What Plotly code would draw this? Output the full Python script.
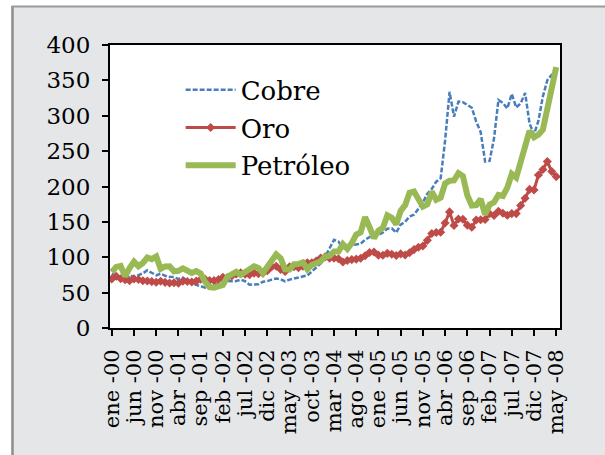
import plotly.graph_objects as go

nombres_mes = ["ene", "feb", "mar", "abr", "may", "jun", "jul", "ago", "sep", "oct", "nov", "dic"]
anios = ["00", "01", "02", "03", "04", "05", "06", "07", "08"]
meses = [f"{m} -{a}" for a in anios for m in nombres_mes][:101]

cobre = [
    76.5, 74.7, 72.1, 69.6, 74.5, 72.3, 74.2, 77.2, 81.5, 78.2, 74.5, 76.7,
    73.8, 72.4, 72.0, 69.2, 71.2, 66.8, 63.8, 61.0, 59.1, 57.1, 59.1, 61.0,
    62.3, 64.6, 66.5, 66.0, 66.3, 68.4, 66.1, 61.2, 61.3, 61.7, 65.4, 66.3,
    68.4, 69.9, 68.9, 65.9, 68.4, 70.0, 71.0, 73.0, 74.3, 79.8, 85.3, 91.3,
    100.6, 113.6, 124.6, 122.1, 113.4, 111.5, 116.8, 118.1, 119.2, 124.9, 128.5, 130.4,
    131.6, 135.0, 140.2, 140.8, 134.8, 146.2, 150.0, 157.6, 160.1, 168.4, 177.2, 189.9,
    196.5, 206.8, 211.8, 265.1, 333.9, 298.7, 320.0, 319.3, 315.5, 311.3, 291.7, 277.0,
    235.3, 236.1, 267.8, 322.3, 318.0, 310.4, 330.8, 311.7, 317.5, 332.3, 289.0, 273.7,
    293.0, 327.4, 350.2, 358.0, 361.0,
]

oro = [
    69.2, 73.1, 69.6, 68.1, 66.8, 69.4, 68.5, 66.7, 66.5, 65.6, 64.6, 66.0,
    64.5, 63.6, 63.9, 63.3, 66.2, 65.7, 65.0, 66.2, 68.9, 68.8, 67.1, 67.0,
    68.5, 71.8, 71.4, 73.6, 76.4, 78.1, 76.1, 75.4, 77.6, 76.9, 77.6, 81.0,
    86.7, 87.2, 82.8, 79.8, 86.4, 86.6, 85.3, 87.4, 92.1, 92.1, 94.7, 99.0,
    100.6, 98.5, 98.8, 97.9, 93.3, 95.4, 96.7, 97.3, 98.5, 102.2, 106.8, 107.4,
    103.0, 102.9, 105.5, 104.3, 102.5, 104.7, 103.2, 106.4, 110.8, 114.2, 115.8, 123.9,
    133.6, 134.9, 135.4, 148.4, 164.1, 144.9, 154.0, 153.7, 145.4, 142.3, 152.6, 153.0,
    153.4, 161.5, 159.1, 165.1, 162.1, 159.3, 161.7, 161.7, 173.2, 183.4, 195.9, 195.2,
    216.2, 224.1, 235.3, 221.1, 214.0,
]

petroleo = [
    79.0, 86.3, 87.7, 73.0, 84.6, 93.6, 87.3, 91.9, 99.6, 97.3, 101.2, 83.6,
    87.0, 87.1, 80.1, 80.8, 84.2, 81.1, 77.7, 80.5, 77.0, 65.2, 57.7, 57.0,
    58.0, 60.9, 72.1, 77.0, 79.5, 75.0, 79.3, 83.5, 87.2, 84.8, 77.5, 86.6,
    96.9, 104.0, 98.5, 82.8, 82.6, 90.1, 90.4, 92.8, 83.2, 89.2, 91.5, 94.5,
    100.9, 102.0, 108.0, 108.0, 118.4, 111.8, 119.9, 132.0, 135.1, 156.6, 142.5, 126.9,
    137.7, 141.6, 159.3, 155.8, 146.5, 165.7, 173.5, 191.1, 192.8, 183.0, 171.5, 174.7,
    192.5, 181.2, 184.3, 204.2, 208.3, 208.6, 218.8, 214.7, 187.6, 173.1, 173.7, 182.2,
    160.3, 174.3, 177.7, 188.1, 186.6, 198.4, 217.9, 212.7, 235.0, 252.3, 278.6, 269.6,
    273.3, 280.4, 310.0, 331.0, 368.7,
]

etiquetas_x = [
    "ene -00", "jun -00", "nov -00", "abr -01", "sep -01", "feb -02", "jul -02",
    "dic -02", "may -03", "oct -03", "mar -04", "ago -04", "ene -05", "jun -05",
    "nov -05", "abr -06", "sep -06", "feb -07", "jul -07", "dic -07", "may -08",
]
valores_y = [0, 50, 100, 150, 200, 250, 300, 350, 400]

FONT = "DejaVu Serif"

fig = go.Figure()
fig.add_trace(go.Scatter(
    x=meses, y=cobre, name="Cobre", mode="lines", legendgroup="a",
    line=dict(color="#4A7EBB", width=2.5, dash="5px,2px"),
))
fig.add_trace(go.Scatter(
    x=meses, y=oro, name="Oro", mode="lines+markers", legendgroup="b",
    line=dict(color="#BE4B48", width=3),
    marker=dict(symbol="diamond", size=7, color="#BE4B48"),
))
fig.add_trace(go.Scatter(
    x=meses, y=petroleo, name="Petróleo", mode="lines", legendgroup="c",
    line=dict(color="#98B954", width=6),
))

gray = "#8E8E8E"
fig.update_layout(
    template="none",
    width=605, height=455,
    margin=dict(l=110, r=45, t=45, b=127, pad=0, autoexpand=False),
    paper_bgcolor="#E5E6E8",
    plot_bgcolor="white",
    font=dict(family=FONT, color="black"),
    showlegend=True,
    legend=dict(
        x=0.157, y=0.925, xanchor="left", yanchor="top",
        bgcolor="rgba(0,0,0,0)", font=dict(size=26, family=FONT, color="black"),
        traceorder="grouped", tracegroupgap=1, itemwidth=50,
    ),
    xaxis=dict(
        type="category", categoryorder="array", categoryarray=meses,
        range=[-0.4, 100.85], automargin=False,
        tickmode="array", tickvals=etiquetas_x, ticktext=etiquetas_x,
        tickangle=-90, ticks="outside", ticklen=6, tickwidth=1.5, tickcolor="black",
        ticklabelstandoff=5,
        showline=True, linecolor="black", linewidth=2, mirror=True,
        showgrid=False, zeroline=False,
        tickfont=dict(size=21, family=FONT, color="black"),
    ),
    yaxis=dict(
        range=[0, 400], tickmode="array", tickvals=valores_y, automargin=False,
        ticks="outside", ticklen=6, tickwidth=1.5, tickcolor="black",
        ticklabelstandoff=7,
        showline=True, linecolor="black", linewidth=2, mirror=True,
        showgrid=False, zeroline=False,
        tickfont=dict(size=23, family=FONT, color="black"),
    ),
    shapes=[
        dict(type="rect", xref="paper", yref="paper", x0=-0.3, x1=-0.2189, y0=-0.6, y1=1.3,
             fillcolor="white", line=dict(width=0), layer="below"),
        dict(type="rect", xref="paper", yref="paper", x0=-0.3, x1=1.2, y0=1.138, y1=1.3,
             fillcolor="white", line=dict(width=0), layer="below"),
        dict(type="line", xref="paper", yref="paper", x0=-0.2167, x1=-0.2167, y0=-0.6, y1=1.138,
             line=dict(color=gray, width=2.5), layer="below"),
        dict(type="line", xref="paper", yref="paper", x0=-0.2189, x1=1.2, y0=1.136, y1=1.136,
             line=dict(color="#9A9A9A", width=2), layer="below"),
    ],
)

fig.write_html(
    "out.html",
    config={"displayModeBar": False},
    post_script="document.body.style.margin='0px';document.body.style.overflow='hidden';",
)
